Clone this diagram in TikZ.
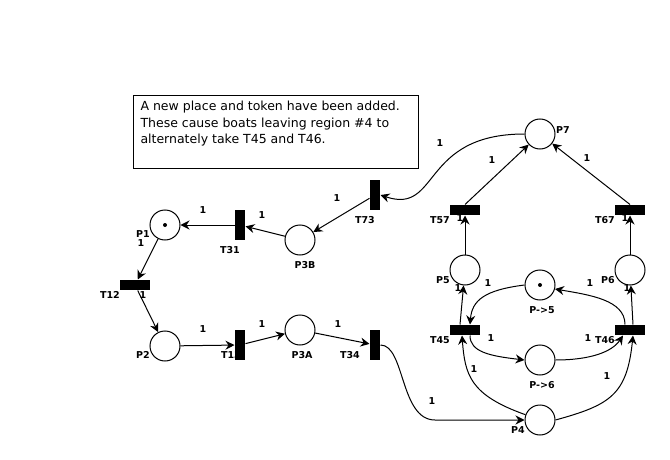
\documentclass[tikz,border=0pt]{standalone}
\usepackage{fontspec}
\setmainfont{DejaVu Sans}
\usetikzlibrary{arrows.meta}
\begin{document}
\begin{tikzpicture}[x=1pt,y=-1pt,line width=1pt,
  place/.style={circle,draw,minimum size=30pt,inner sep=0pt},
  transv/.style={rectangle,fill=black,minimum width=10pt,minimum height=30pt,inner sep=0pt},
  transh/.style={rectangle,fill=black,minimum width=30pt,minimum height=10pt,inner sep=0pt},
  lbl/.style={font=\fontsize{9.5}{10}\selectfont\bfseries,inner sep=0pt},
  arc/.style={-{Stealth[length=9pt,width=9pt,inset=3pt]}},
  token/.style={circle,fill=black,minimum size=4pt,inner sep=0pt}]
\fill[white] (0,0) rectangle (670,460);
\useasboundingbox (0,0) rectangle (670,460);
% note box
\draw (133,96) rectangle (418,168);
\node[anchor=north west,align=left,inner sep=0pt,font=\fontsize{12.5}{16.5}\selectfont] (note) at (140,101)
  {A new place and token have been added.\\These cause boats leaving region \#4 to\\alternately take T45 and T46.};
% labels
\foreach \n/\x/\y/\t in {
  LP1/143/234/P1, LP2/143/355/P2, LT12/110/295/T12, LT31/230/250/T31,
  LP3B/305/265/P3B, LT13/231/355/T13, LP3A/302/355/P3A, LT34/350/355/T34,
  LT73/365/220/T73, LT57/440/220/T57, LT67/605/220/T67, LP7/563/130/P7,
  LP5/443/280/P5, LP6/608/280/P6, LPt5/542/310/P->5, LPt6/542/385/P->6,
  LT45/440/340/T45, LT46/605/340/T46, LP4/518/430/P4}
  \node[lbl] (\n) at (\x,\y) {\t};
\foreach \n/\x/\y in {
  w1/141/243, w2/143/295, w3/203/329, w4/262/324, w5/203/210, w6/262/215,
  w7/338/324, w8/337/198, w9/440/143, w10/492/160, w11/587/158, w12/460/218,
  w13/625/218, w14/458/288, w15/627/288, w16/488/283, w17/590/283, w18/491/338,
  w19/588/338, w20/474/369, w21/607/376, w22/432/401}
  \node[lbl] (\n) at (\x,\y) {1};
% places
\node[place] (P1) at (165,225) {};
\node[place] (P2) at (165,346) {};
\node[place] (P3A) at (300,330) {};
\node[place] (P3B) at (300,240) {};
\node[place] (P7) at (540,134) {};
\node[place] (P5) at (465,270) {};
\node[place] (P6) at (630,270) {};
\node[place] (Pto5) at (540,285) {};
\node[place] (Pto6) at (540,360) {};
\node[place] (P4) at (540,420) {};
\node[token] (tok1) at (P1) {};
\node[token] (tok2) at (Pto5) {};
% transitions
\node[transh] (T12) at (135,285) {};
\node[transv] (T31) at (240,225) {};
\node[transv] (T13) at (240,345) {};
\node[transv] (T34) at (375,345) {};
\node[transv] (T73) at (375,195) {};
\node[transh] (T57) at (465,210) {};
\node[transh] (T67) at (630,210) {};
\node[transh] (T45) at (465,330) {};
\node[transh] (T46) at (630,330) {};
% arcs
\draw[arc] (P1) -- (T12);
\draw[arc] (T12) -- (P2);
\draw[arc] (P2) -- (T13);
\draw[arc] (T13) -- (P3A);
\draw[arc] (P3A) -- (T34);
\draw[arc] (T34.east) .. controls (405,345) and (400,420) .. (435,420) -- (P4.west);
\draw[arc] (P3B) -- (T31);
\draw[arc] (T31) -- (P1);
\draw[arc] (T73) -- (P3B);
\draw[arc] (P7.west) .. controls (420,134) and (440,215) .. (T73.east);
\draw[arc] (T57.north) -- (P7);
\draw[arc] (T67.north) -- (P7);
\draw[arc] (P5) -- (T57);
\draw[arc] (P6) -- (T67);
\draw[arc] ([xshift=-5pt]T45.north) -- (P5);
\draw[arc] ([xshift=3pt]T46.north) -- (P6);
\draw[arc] (Pto5.west) .. controls (485,290) and (472,300) .. ([xshift=5pt]T45.north);
\draw[arc] ([xshift=5pt]T45.south) .. controls (470,352) and (490,356) .. (Pto6.west);
\draw[arc] (Pto6.east) .. controls (590,360) and (612,352) .. ([xshift=-7pt]T46.south);
\draw[arc] ([xshift=-5pt]T46.north) .. controls (625,300) and (590,295) .. (Pto5.-15);
\draw[arc] (P4.160) .. controls (470,395) and (465,375) .. ([xshift=-3pt]T45.south);
\draw[arc] (P4.east) .. controls (610,405) and (627,395) .. ([xshift=3pt]T46.south);
\end{tikzpicture}
\end{document}
